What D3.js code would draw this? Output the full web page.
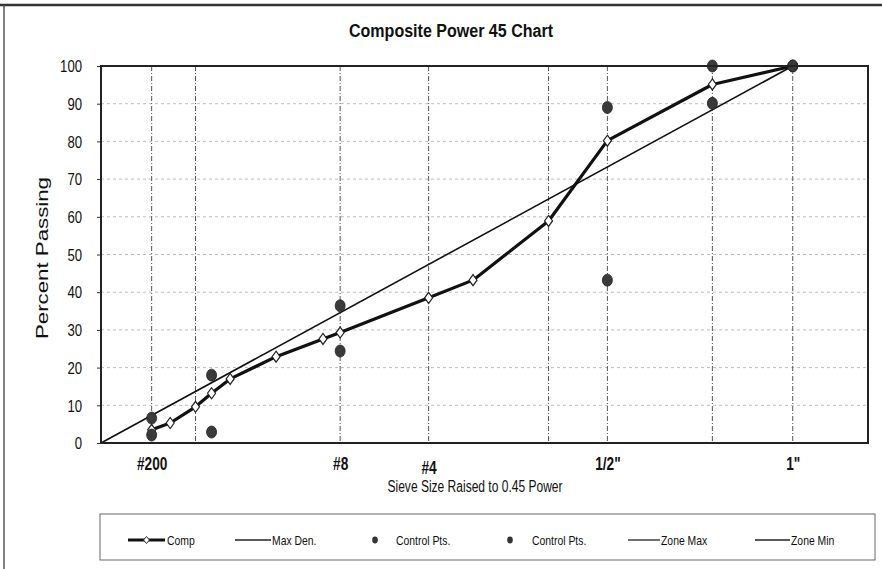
<!DOCTYPE html>
<html>
<head>
<meta charset="utf-8">
<script src="https://cdn.jsdelivr.net/npm/d3@7/dist/d3.min.js"></script>
<style>
  html, body { margin: 0; padding: 0; background: #fff; }
  svg { display: block; }
  text { fill: #111; }
</style>
</head>
<body>
<svg id="chart" width="882" height="569"></svg>
<script>
// Sieve openings in mm; the x axis is sieve size raised to the 0.45 power
const tickSizes = [0.075, 2.36, 4.75, 12.5, 25];
const tickLabels = ['#200', '#8', '#4', '1/2"', '1"'];
const gridSizes = [0.075, 0.3, 2.36, 4.75, 9.5, 12.5, 19, 25];
const yTicks = [0, 10, 20, 30, 40, 50, 60, 70, 80, 90, 100];

// Composite gradation
const compSizes = [0.075, 0.15, 0.3, 0.425, 0.6, 1.18, 2.0, 2.36, 4.75, 6.3, 9.5, 12.5, 19, 25];
const compPassing = [3.5, 5.3, 9.6, 13.2, 17, 22.9, 27.6, 29.3, 38.5, 43.2, 58.9, 80.2, 95.1, 100];

// Maximum density line
const maxDenSizes = [0, 25];
const maxDenPassing = [0, 100];

// Control points (two series)
const ctrlSizes = [0.075, 0.425, 2.36, 12.5, 19, 25];
const ctrlLow = [2.1, 2.9, 24.4, 43.2, 90.1, 100];
const ctrlHigh = [6.6, 18, 36.4, 89, 100, 100];

// Zone limits (no values plotted)
const zoneMax = [];
const zoneMin = [];

const legendNames = ['Comp', 'Max Den.', 'Control Pts.', 'Control Pts.', 'Zone Max', 'Zone Min'];

const svg = d3.select('#chart');
const sans = "'Liberation Sans', Arial, sans-serif";
const plot = { left: 101, right: 868, top: 66, bottom: 443 };

// squeeze text horizontally to a condensed look
function condense(sel, factor) {
  sel.each(function () {
    const w = this.getComputedTextLength();
    d3.select(this).attr('textLength', w * factor).attr('lengthAdjust', 'spacingAndGlyphs');
  });
}

const x = d3.scalePow().exponent(0.45).domain([0, 31.45]).range([plot.left, plot.right]);
const y = d3.scaleLinear().domain([0, 100]).range([plot.bottom, plot.top]);

// outer frame edges
svg.append('line').attr('x1', 0).attr('x2', 882).attr('y1', 5).attr('y2', 5)
  .attr('stroke', '#333').attr('stroke-width', 2.5);
svg.append('line').attr('x1', 4).attr('x2', 4).attr('y1', 5).attr('y2', 569)
  .attr('stroke', '#555').attr('stroke-width', 1.5);

// title
svg.append('text').attr('x', 451).attr('y', 37).attr('text-anchor', 'middle')
  .attr('font-family', sans).attr('font-weight', 'bold').attr('font-size', 18)
  .attr('textLength', 204).attr('lengthAdjust', 'spacingAndGlyphs')
  .text('Composite Power 45 Chart');

// horizontal gridlines
svg.append('g').selectAll('line').data(yTicks.filter(v => v > 0 && v < 100)).join('line')
  .attr('x1', plot.left).attr('x2', plot.right)
  .attr('y1', d => y(d)).attr('y2', d => y(d))
  .attr('stroke', '#bdbdbd').attr('stroke-width', 1).attr('stroke-dasharray', '3,3');

// vertical gridlines
svg.append('g').selectAll('line').data(gridSizes).join('line')
  .attr('x1', d => x(d)).attr('x2', d => x(d))
  .attr('y1', plot.top).attr('y2', plot.bottom)
  .attr('stroke', '#555').attr('stroke-width', 1).attr('stroke-dasharray', '5,2,1,2');

// y axis
const yAxis = svg.append('g').attr('transform', `translate(${plot.left},0)`)
  .call(d3.axisLeft(y).tickValues(yTicks).tickSize(4).tickPadding(15).tickFormat(d3.format('d')));
yAxis.select('.domain').remove();
yAxis.selectAll('line').attr('stroke', '#333');
yAxis.selectAll('text').attr('font-family', sans).attr('font-size', 16).attr('fill', '#111')
  .attr('dy', '0.36em').call(condense, 0.82);

// x axis labels
const xAxis = svg.append('g').attr('transform', `translate(0,${plot.bottom})`)
  .call(d3.axisBottom(x).tickValues(tickSizes).tickSize(0).tickFormat((d, i) => tickLabels[i]));
xAxis.select('.domain').remove();
xAxis.selectAll('text').attr('font-family', sans).attr('font-weight', 'bold')
  .attr('font-size', 18).attr('fill', '#111')
  .attr('y', (d, i) => tickLabels[i] === '#4' ? 31 : 27).attr('dy', 0)
  .call(condense, 0.76);

// axis titles
svg.append('text').attr('x', 475).attr('y', 492).attr('text-anchor', 'middle')
  .attr('font-family', sans).attr('font-size', 16)
  .attr('textLength', 175).attr('lengthAdjust', 'spacingAndGlyphs')
  .text('Sieve Size Raised to 0.45 Power');
svg.append('text').attr('transform', 'translate(48,258) rotate(-90)').attr('text-anchor', 'middle')
  .attr('font-family', sans).attr('font-size', 16)
  .attr('textLength', 162).attr('lengthAdjust', 'spacingAndGlyphs')
  .text('Percent Passing');

// maximum density line
const line = d3.line().x(d => x(d[0])).y(d => y(d[1]));
svg.append('path').datum(d3.zip(maxDenSizes, maxDenPassing))
  .attr('d', line).attr('fill', 'none').attr('stroke', '#111').attr('stroke-width', 1.6);

// composite line
const comp = d3.zip(compSizes, compPassing);
svg.append('path').datum(comp)
  .attr('d', line).attr('fill', 'none').attr('stroke', '#111').attr('stroke-width', 3.2)
  .attr('stroke-linejoin', 'round');

const diamond = 'M0,-5.5L4,0L0,5.5L-4,0Z';
svg.append('g').selectAll('path').data(comp).join('path')
  .attr('transform', d => `translate(${x(d[0])},${y(d[1])})`)
  .attr('d', diamond).attr('fill', '#fff').attr('stroke', '#222').attr('stroke-width', 1.2);

// control points
[ctrlLow, ctrlHigh].forEach(series => {
  svg.append('g').selectAll('ellipse').data(d3.zip(ctrlSizes, series)).join('ellipse')
    .attr('cx', d => x(d[0])).attr('cy', d => y(d[1]))
    .attr('rx', 5).attr('ry', 6).attr('fill', '#3a3a3a').attr('stroke', '#222').attr('stroke-width', 0.8);
});

// plot border
svg.append('rect').attr('x', plot.left).attr('y', plot.top)
  .attr('width', plot.right - plot.left).attr('height', plot.bottom - plot.top)
  .attr('fill', 'none').attr('stroke', '#222').attr('stroke-width', 2);

// legend
const lg = svg.append('g');
lg.append('rect').attr('x', 100).attr('y', 514).attr('width', 775).attr('height', 46)
  .attr('fill', 'none').attr('stroke', '#666').attr('stroke-width', 1);
const ly = 540;
const legendLayout = [
  { kind: 'comp', x0: 128, x1: 165, tx: 167 },
  { kind: 'line', x0: 235, x1: 271, tx: 272 },
  { kind: 'dot', x0: 375, tx: 396 },
  { kind: 'dot', x0: 510, tx: 532 },
  { kind: 'line', x0: 628, x1: 660, tx: 661 },
  { kind: 'line', x0: 755, x1: 790, tx: 791 }
];
legendNames.forEach((name, i) => {
  const L = legendLayout[i];
  if (L.kind === 'comp') {
    lg.append('line').attr('x1', L.x0).attr('x2', L.x1).attr('y1', ly).attr('y2', ly)
      .attr('stroke', '#111').attr('stroke-width', 3);
    lg.append('path').attr('transform', `translate(${(L.x0 + L.x1) / 2},${ly})`)
      .attr('d', 'M0,-3.5L3,0L0,3.5L-3,0Z').attr('fill', '#fff').attr('stroke', '#222');
  } else if (L.kind === 'line') {
    lg.append('line').attr('x1', L.x0).attr('x2', L.x1).attr('y1', ly).attr('y2', ly)
      .attr('stroke', '#222').attr('stroke-width', 1.3);
  } else {
    lg.append('ellipse').attr('cx', L.x0).attr('cy', ly).attr('rx', 2.8).attr('ry', 3.4)
      .attr('fill', '#333');
  }
  lg.append('text').attr('x', L.tx).attr('y', ly + 4.5)
    .attr('font-family', sans).attr('font-size', 13).attr('fill', '#333').text(name)
    .call(condense, 0.8);
});
</script>
</body>
</html>
